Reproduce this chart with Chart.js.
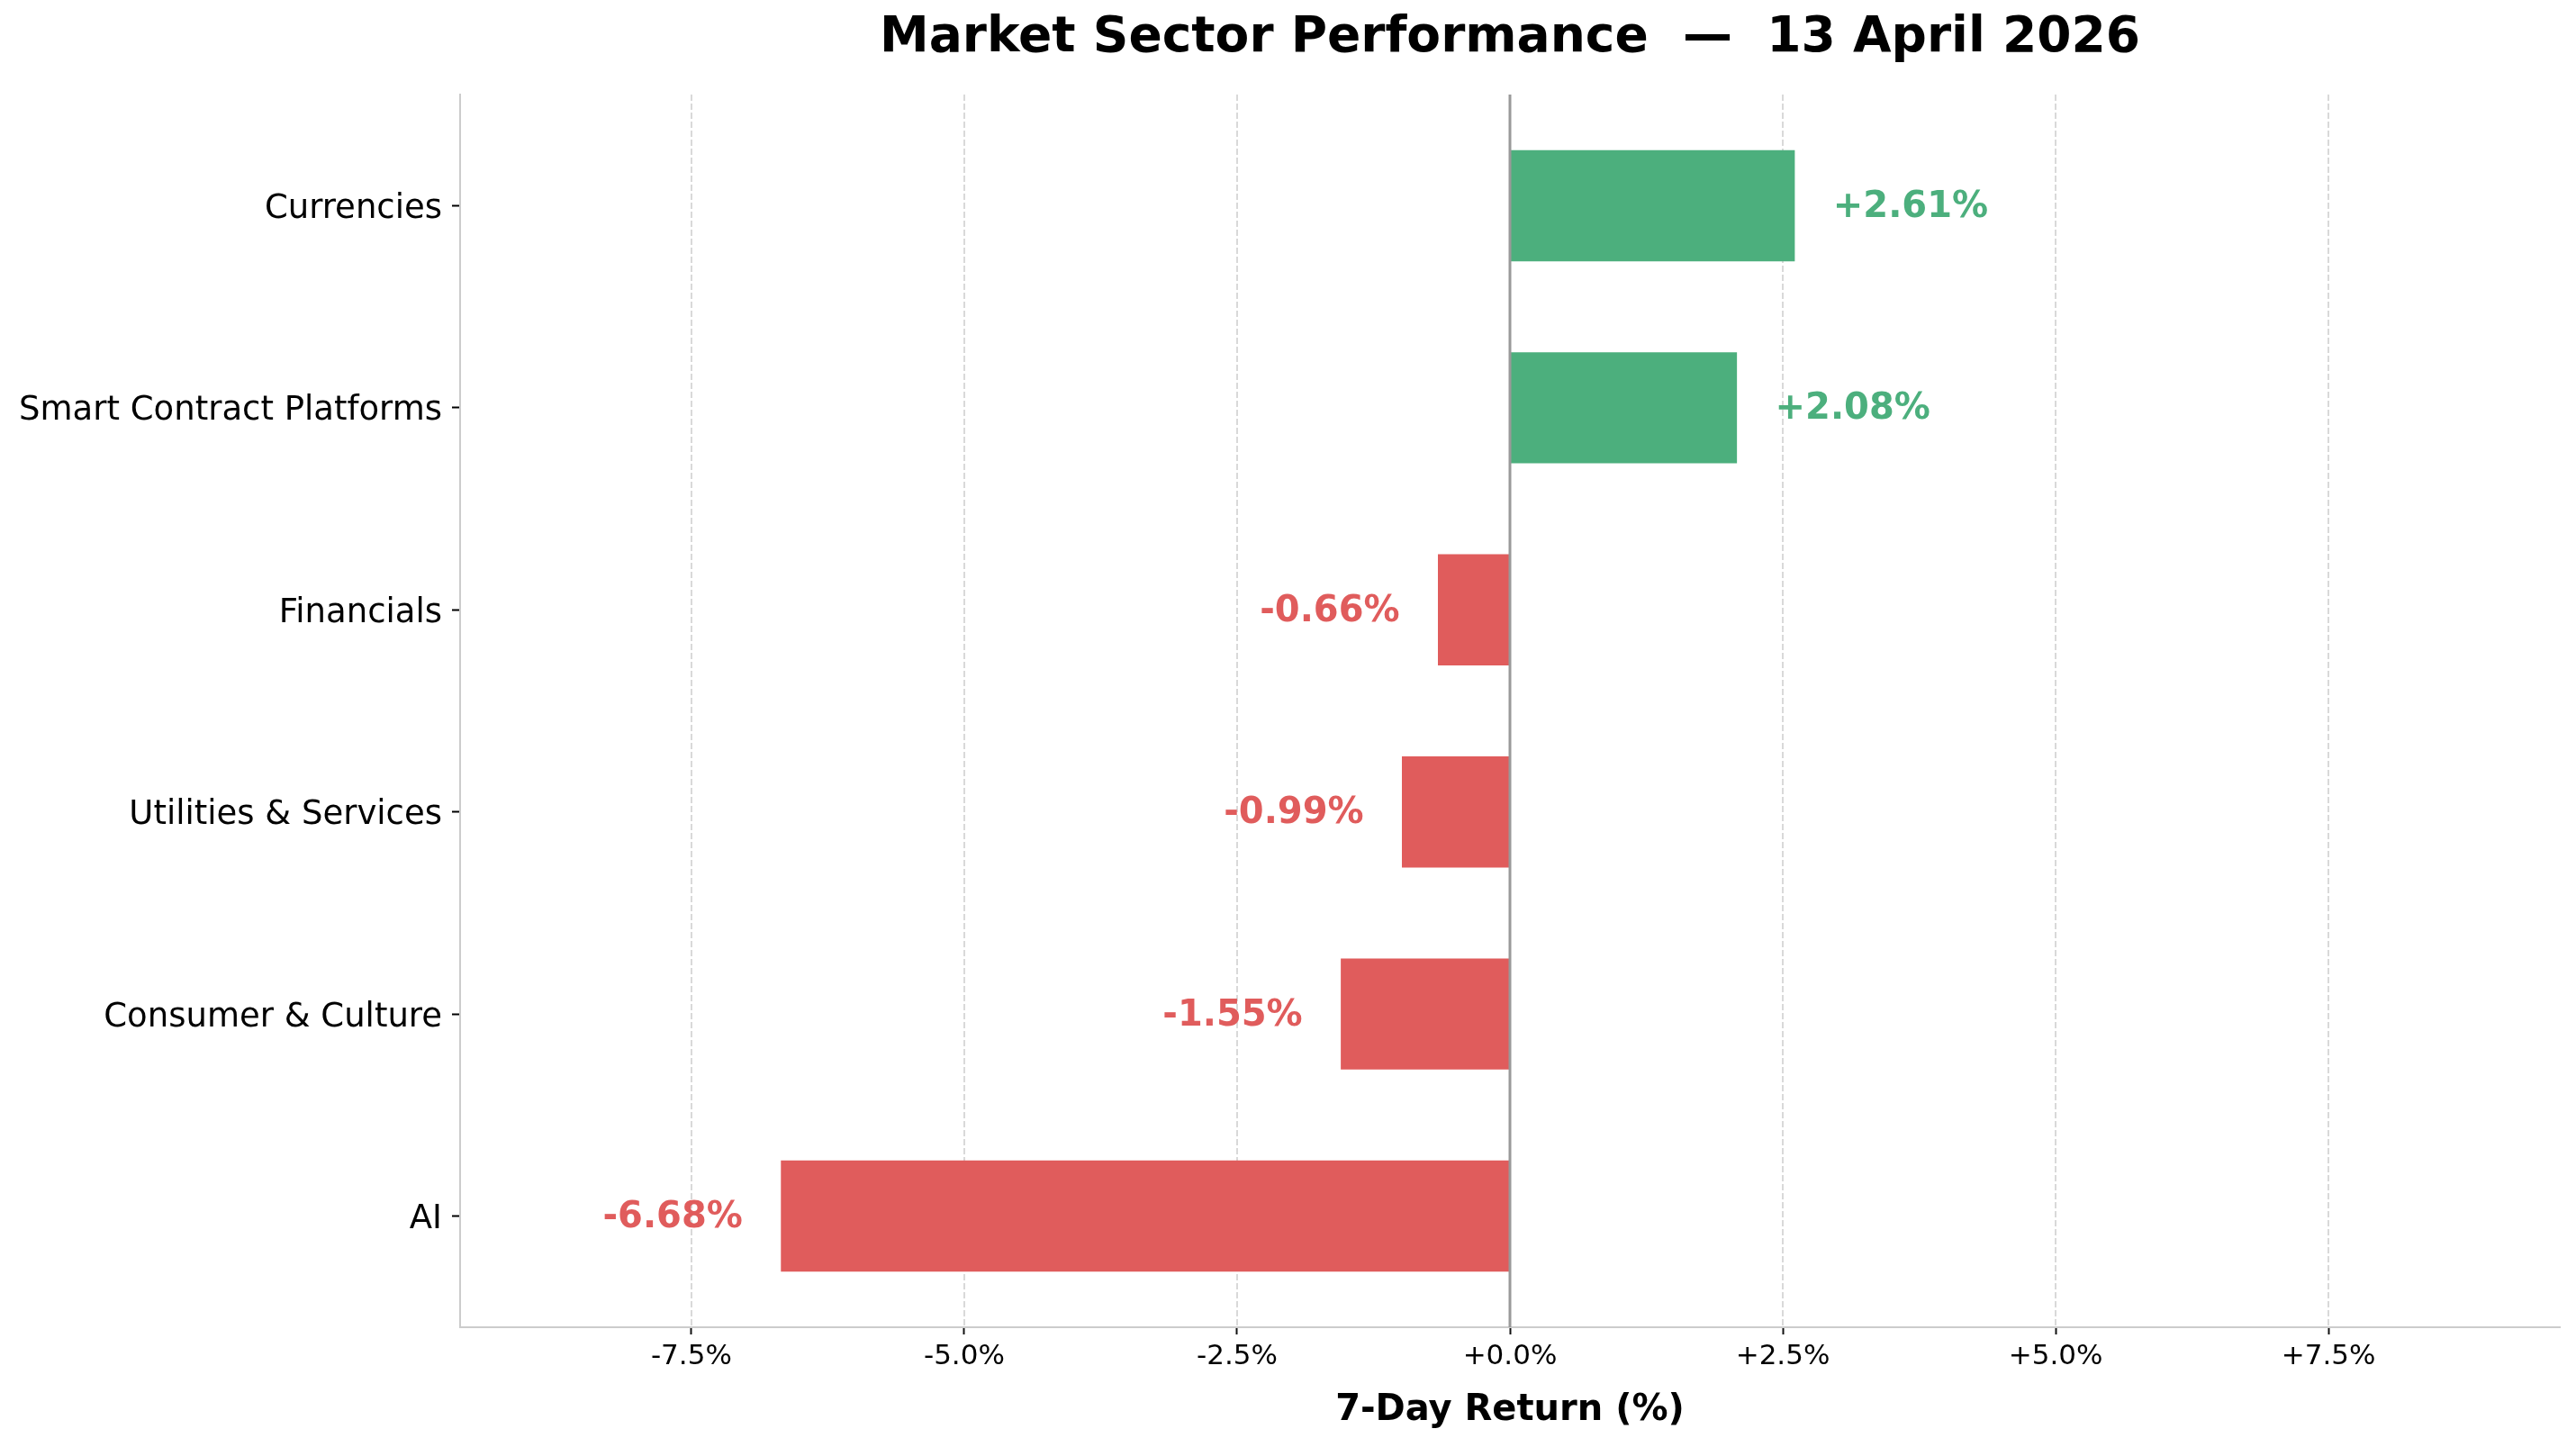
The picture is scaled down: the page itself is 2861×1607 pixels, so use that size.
<!DOCTYPE html>
<html>
<head>
<meta charset="utf-8">
<script src="https://cdn.jsdelivr.net/npm/chart.js"></script>
<style>
  html, body { margin: 0; padding: 0; background: #ffffff; }
  #chart { display: block; }
</style>
</head>
<body>
<canvas id="chart" width="2861" height="1607" style="width:2861px;height:1607px;"></canvas>
<script>
// data, bottom row first (matches the picture: AI at the bottom)
const sectors = ['AI', 'Consumer & Culture', 'Utilities & Services', 'Financials', 'Smart Contract Platforms', 'Currencies'];
const returns = [-6.68, -1.55, -0.99, -0.66, 2.08, 2.61];
const xTicks = [-7.5, -5.0, -2.5, 0.0, 2.5, 5.0, 7.5];

const GREEN = '#4caf7d';
const RED = '#e05c5c';
const FONT = "'DejaVu Sans', 'Liberation Sans', sans-serif";

const xLimit = Math.max(...returns.map(Math.abs)) * 1.44;
const fmtPct = (v) => (v >= 0 ? '+' : '') + v.toFixed(1) + '%';

// dashed vertical grid, drawn under the bars
const dashedGrid = {
    id: 'dashedGrid',
    beforeDatasetsDraw(chart) {
        const { ctx, chartArea, scales } = chart;
        ctx.save();
        ctx.strokeStyle = '#d9d9d9';
        ctx.lineWidth = 2;
        ctx.setLineDash([7, 3]);
        scales.x.ticks.forEach(t => {
            const x = Math.round(scales.x.getPixelForValue(t.value));
            ctx.beginPath();
            ctx.moveTo(x, chartArea.top);
            ctx.lineTo(x, chartArea.bottom);
            ctx.stroke();
        });
        ctx.restore();
    }
};

// zero reference line, drawn over the bars
const zeroLine = {
    id: 'zeroLine',
    afterDatasetsDraw(chart) {
        const { ctx, chartArea, scales } = chart;
        const x = scales.x.getPixelForValue(0);
        ctx.save();
        ctx.strokeStyle = '#999999';
        ctx.lineWidth = 3;
        ctx.beginPath();
        ctx.moveTo(x, chartArea.top);
        ctx.lineTo(x, chartArea.bottom);
        ctx.stroke();
        ctx.restore();
    }
};

// value labels next to the bar ends
const valueLabels = {
    id: 'valueLabels',
    afterDatasetsDraw(chart) {
        const { ctx, scales } = chart;
        ctx.save();
        ctx.font = `bold 40px ${FONT}`;
        ctx.textBaseline = 'middle';
        returns.forEach((v, i) => {
            const off = v >= 0 ? 0.35 : -0.35;
            const x = scales.x.getPixelForValue(v + off);
            const y = scales.y.getPixelForValue(i) + 2;
            ctx.fillStyle = v >= 0 ? GREEN : RED;
            ctx.textAlign = v >= 0 ? 'left' : 'right';
            ctx.fillText((v >= 0 ? '+' : '') + v.toFixed(2) + '%', x, y);
        });
        ctx.restore();
    }
};

new Chart(document.getElementById('chart').getContext('2d'), {
    type: 'bar',
    data: {
        datasets: [{
            data: returns.map((v, i) => ({ x: v, y: i })),
            backgroundColor: returns.map(v => v >= 0 ? GREEN : RED),
            borderWidth: 0,
            categoryPercentage: 1.0,
            barPercentage: 0.55
        }]
    },
    options: {
        indexAxis: 'y',
        responsive: false,
        devicePixelRatio: 1,
        animation: false,
        layout: { padding: { left: 0, right: 18, top: 0, bottom: 0 } },
        plugins: {
            legend: { display: false },
            tooltip: { enabled: false },
            title: {
                display: true,
                fullSize: false,
                text: 'Market Sector Performance  \u2014  13 April 2026',
                color: '#000000',
                font: { family: FONT, size: 55, weight: 'bold' },
                padding: { top: 10, bottom: 29 }
            }
        },
        scales: {
            x: {
                type: 'linear',
                min: -xLimit,
                max: xLimit,
                afterBuildTicks: (scale) => { scale.ticks = xTicks.map(v => ({ value: v })); },
                afterFit: (scale) => { scale.height = 133; },
                ticks: {
                    callback: (v) => fmtPct(v),
                    color: '#000000',
                    font: { family: FONT, size: 31 },
                    padding: 6,
                    maxRotation: 0,
                    autoSkip: false
                },
                grid: {
                    display: true,
                    drawOnChartArea: false,
                    drawTicks: true,
                    tickColor: '#111111',
                    tickWidth: 2,
                    tickLength: 8
                },
                border: { display: true, color: '#cccccc', width: 2 },
                title: {
                    display: true,
                    text: '7-Day Return (%)',
                    color: '#000000',
                    font: { family: FONT, size: 40, weight: 'bold' },
                    padding: { top: 0, bottom: 16 }
                }
            },
            y: {
                type: 'linear',
                offset: false,
                min: -0.55,
                max: sectors.length - 1 + 0.55,
                afterBuildTicks: (scale) => { scale.ticks = sectors.map((s, i) => ({ value: i })); },
                afterFit: (scale) => { scale.width = 511; },
                ticks: {
                    callback: (v) => sectors[v],
                    color: '#000000',
                    font: { family: FONT, size: 37 },
                    padding: 11,
                    labelOffset: 4,
                    autoSkip: false
                },
                grid: {
                    display: true,
                    offset: false,
                    drawOnChartArea: false,
                    drawTicks: true,
                    tickColor: '#000000',
                    tickWidth: 2,
                    tickLength: 9
                },
                border: { display: true, color: '#cccccc', width: 2 }
            }
        }
    },
    plugins: [dashedGrid, zeroLine, valueLabels]
});
</script>
</body>
</html>
